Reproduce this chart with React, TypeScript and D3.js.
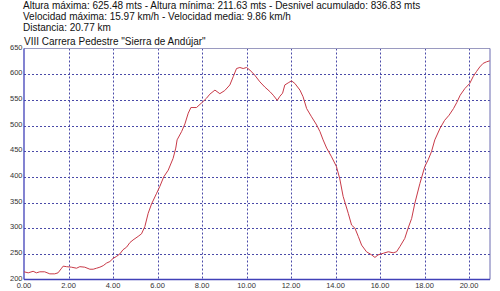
import React from "react";
import * as d3 from "d3";

const infoLines = [
  "Altura máxima: 625.48 mts - Altura mínima: 211.63 mts - Desnivel acumulado: 836.83 mts",
  "Velocidad máxima: 15.97 km/h - Velocidad media: 9.86 km/h",
  "Distancia: 20.77 km",
];
const chartTitle = 'VIII Carrera Pedestre "Sierra de Andújar"';

const yTicks = [200, 250, 300, 350, 400, 450, 500, 550, 600, 650];
const xTicks = [0, 2, 4, 6, 8, 10, 12, 14, 16, 18, 20];

const distKm = [
  0, 0.19, 0.41, 0.56, 0.71, 0.93, 1.16, 1.38, 1.53, 1.69, 1.76, 1.91, 2.13, 2.36, 2.51, 2.73, 2.96, 3.11, 3.26, 3.41, 3.56, 3.71, 3.86, 4.0, 4.16, 4.31, 4.45, 4.61, 4.76, 4.9,
  5.13, 5.28, 5.43, 5.58, 5.73, 5.96, 6.1, 6.28, 6.48, 6.7, 6.82, 6.88, 7.08, 7.23, 7.38, 7.5, 7.75, 7.98, 8.2, 8.35, 8.58, 8.8,
  9.02, 9.25, 9.4, 9.55, 9.7, 9.85, 10.0, 10.15, 10.37, 10.6, 10.82, 11.05, 11.2, 11.38, 11.5, 11.62, 11.72, 11.87, 12.02, 12.17, 12.4, 12.54, 12.7, 12.92, 13.15, 13.3,
  13.44, 13.6, 13.82, 14.04, 14.19, 14.34, 14.57, 14.72, 14.87, 15.02, 15.17, 15.39, 15.62, 15.77, 15.91, 16.14, 16.37, 16.59, 16.74, 16.89, 17.11, 17.26, 17.42, 17.56, 17.79, 18.01, 18.16, 18.31, 18.46,
  18.7, 18.9, 19.1, 19.3, 19.45, 19.6, 19.81, 20.03, 20.18, 20.33, 20.48, 20.63, 20.78, 20.93,
];
const altitude = [
  215, 213, 216, 213, 215, 215, 211, 211, 213, 222, 226, 225, 224, 222, 225, 224, 220, 220, 222, 224, 227, 232, 235, 241, 245, 250, 258, 263, 272, 277,
  284, 289, 303, 329, 347, 368, 381, 400, 413, 436, 456, 472, 488, 503, 524, 535, 535, 544, 553, 561, 569, 562,
  568, 579, 595, 611, 613, 611, 613, 608, 598, 585, 575, 566, 559, 549, 557, 563, 579, 583, 587, 582, 569, 556, 533, 517, 501, 488,
  472, 456, 439, 420, 396, 362, 329, 306, 300, 284, 267, 254, 248, 243, 248, 251, 254, 252, 254, 264, 280, 300, 319, 348, 387, 420, 433, 449, 472,
  495, 510, 520, 533, 545, 559, 572, 582, 595, 605, 614, 621, 624, 626,
];

const W = 500;
const H = 291;
const left = 24;
const right = 490;
const top = 48.5;
const bottom = 279.5;

export default function App() {
  const x = d3.scaleLinear().domain([0, 20.94]).range([left, right]);
  const y = d3.scaleLinear().domain([200, 650]).range([bottom, top]);
  const pts: [number, number][] = distKm.map((d, i) => [d, altitude[i]]);
  const line = d3
    .line<[number, number]>()
    .x((d) => x(d[0]))
    .y((d) => y(d[1]))
    .curve(d3.curveLinear);

  const gridColor = "#4a4aa8";
  const font = "'Liberation Sans', Arial, sans-serif";

  return (
    <svg
      width={W}
      height={H}
      viewBox={`0 0 ${W} ${H}`}
      style={{ position: "absolute", left: 0, top: 0, background: "#fff" }}
    >
      <rect x={0} y={0} width={W} height={H} fill="#fff" />
      {infoLines.map((t, i) => (
        <text key={i} x={23} y={9 + i * 11} fontFamily={font} fontSize={10} fill="#111">
          {t}
        </text>
      ))}
      <text x={left} y={45} fontFamily={font} fontSize={10} fill="#111">
        {chartTitle}
      </text>

      {yTicks
        .filter((v) => v > 200 && v < 650)
        .map((v) => (
          <line
            key={"gy" + v}
            x1={left}
            x2={right}
            y1={Math.round(y(v)) + 0.5}
            y2={Math.round(y(v)) + 0.5}
            stroke={gridColor}
            strokeWidth={1}
            strokeDasharray="2,2"
          />
        ))}
      {xTicks
        .filter((v) => v > 0)
        .map((v) => (
          <line
            key={"gx" + v}
            x1={Math.round(x(v)) + 0.5}
            x2={Math.round(x(v)) + 0.5}
            y1={top}
            y2={bottom}
            stroke={gridColor}
            strokeWidth={1}
            strokeDasharray="2,2"
          />
        ))}

      <line x1={left} x2={right} y1={top} y2={top} stroke="#9a9ac0" strokeWidth={1} />
      <line x1={right} x2={right} y1={top} y2={bottom} stroke="#6a6ab0" strokeWidth={1} />
      <line x1={left} x2={right} y1={bottom} y2={bottom} stroke="#4040b8" strokeWidth={1.3} />
      <line x1={left} x2={left} y1={top} y2={bottom} stroke="#4040b8" strokeWidth={1.3} />

      {yTicks.map((v) => (
        <text
          key={"ty" + v}
          x={left - 1.5}
          y={y(v) + 1}
          textAnchor="end"
          fontFamily={font}
          fontSize={7.5}
          fill="#333"
        >
          {v}
        </text>
      ))}
      {xTicks.map((v) => (
        <text
          key={"tx" + v}
          x={x(v)}
          y={288}
          textAnchor="middle"
          fontFamily={font}
          fontSize={7.5}
          fill="#333"
        >
          {v.toFixed(2)}
        </text>
      ))}

      <path d={line(pts) || ""} fill="none" stroke="#c83a48" strokeWidth={1} />
    </svg>
  );
}
